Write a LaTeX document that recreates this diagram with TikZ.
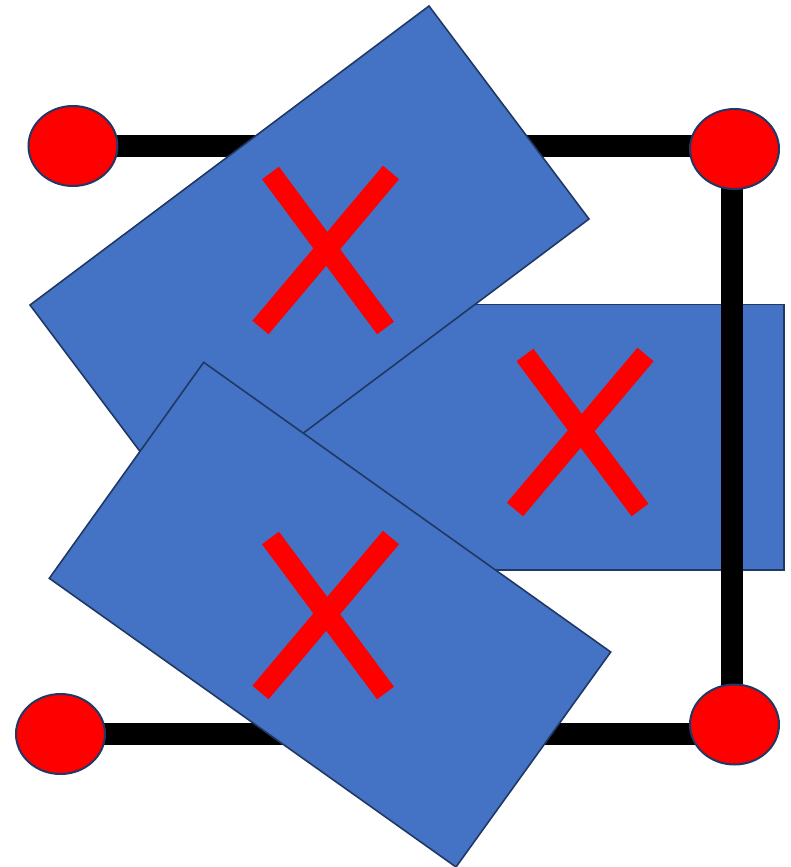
\documentclass[tikz,border=0pt]{standalone}
\usetikzlibrary{shapes.geometric}
\definecolor{boxblue}{HTML}{4472C4}
\definecolor{boxedge}{HTML}{203864}
\definecolor{dotred}{HTML}{FF0000}
\tikzset{
  card/.style={fill=boxblue, draw=boxedge, line width=1.6pt, line join=miter},
  bar/.style={draw=black, line width=22pt, line cap=butt},
  dot/.style={ellipse, fill=dotred, draw=boxedge, line width=2pt, minimum width=89pt, minimum height=80pt, inner sep=0pt},
  cross/.style={draw=dotred, line width=21pt, line cap=butt}
}
\begin{document}
\begin{tikzpicture}[x=1pt,y=-1pt]
\useasboundingbox (0,0) rectangle (791,867);
% middle horizontal card (behind the bars)
\fill[card] (285,304.3) rectangle (784,570);
% bar end coordinates
\coordinate (ctl) at (73,146);
\coordinate (ctr) at (734.5,146);
\coordinate (crt) at (731.7,149);
\coordinate (crb) at (731.7,724.5);
\coordinate (cbl) at (60.5,734);
\coordinate (cbr) at (734.5,734);
\draw[bar] (ctl) -- (ctr);
\draw[bar] (crt) -- (crb);
\draw[bar] (cbl) -- (cbr);
% red dots
\node[dot] (tl) at (73,146) {};
\node[dot] (tr) at (734.5,149) {};
\node[dot] (bl) at (60.5,734) {};
\node[dot] (br) at (734.5,724.5) {};
% upper tilted card
\fill[card] (30,305) -- (429,6) -- (589,219) -- (190,518) -- cycle;
% lower tilted card
\fill[card] (203.7,362.3) -- (610.7,652) -- (456,867) -- (49.3,578.3) -- cycle;
% crosses
\foreach \cx/\cy in {0/0, 254.5/182, 0/365} {
  \draw[cross] (270.5+\cx,173+\cy) -- (385.5+\cx,328+\cy);
  \draw[cross] (391+\cx,172.5+\cy) -- (260.5+\cx,327.5+\cy);
}
\end{tikzpicture}
\end{document}
